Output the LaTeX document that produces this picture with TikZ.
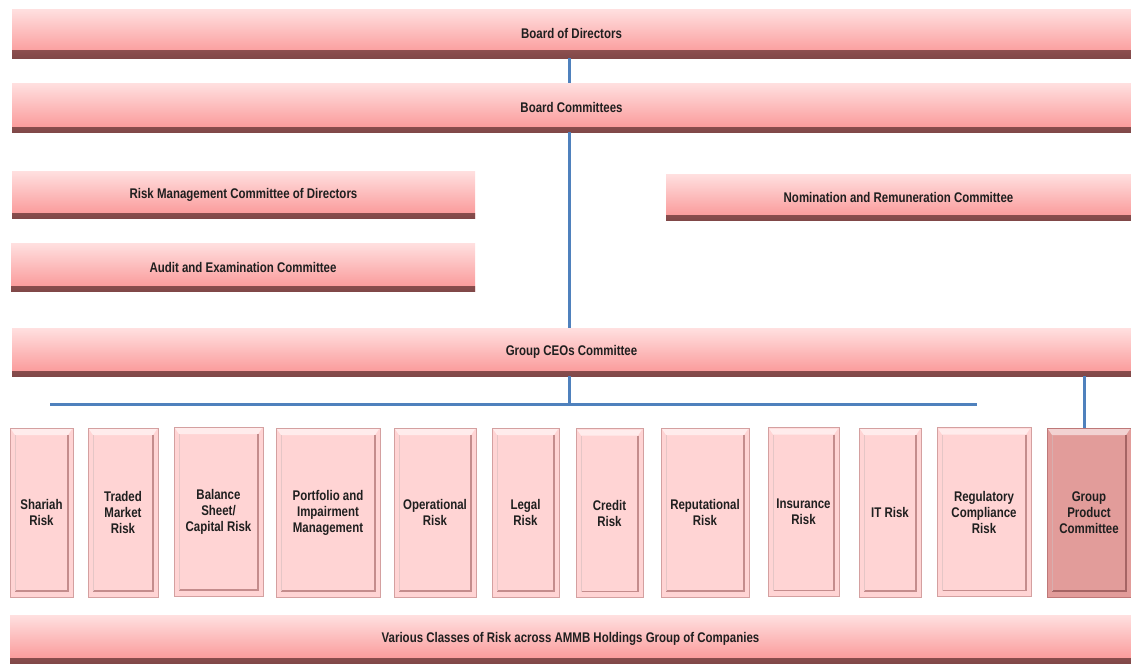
\documentclass[tikz,border=0pt]{standalone}
\usepackage{fontspec}
\newfontfamily\lbl[FakeStretch=0.82]{Liberation Sans}
\definecolor{barTop}{RGB}{255,224,224}
\definecolor{barBot}{RGB}{250,148,148}
\definecolor{barMid}{RGB}{205,112,112}
\definecolor{barEdge}{RGB}{128,72,72}
\definecolor{tileIn}{RGB}{255,212,212}
\definecolor{tileRim}{RGB}{212,160,160}
\definecolor{tileDark}{RGB}{196,140,140}
\definecolor{gpIn}{RGB}{226,156,154}
\definecolor{gpRim}{RGB}{190,120,120}
\definecolor{gpDark}{RGB}{165,100,100}
\definecolor{link}{RGB}{79,129,189}
\tikzset{
  lbltext/.style={font=\lbl\bfseries\fontsize{14}{16}\selectfont, text=black!88},
  bar/.style={lbltext, minimum height=#1, inner sep=0pt, top color=barTop, bottom color=barBot,
    path picture={\shade[top color=barMid, bottom color=barEdge] (path picture bounding box.south west) rectangle ([yshift=5pt]path picture bounding box.south east);}},
  bar/.default=48pt,
  bevel/.style n args={3}{lbltext, minimum height=169pt, inner sep=0pt, align=center, fill=#1, draw=#2, line width=0.8pt,
    path picture={
      \fill[white!55!#1] ([xshift=1pt,yshift=-1pt]path picture bounding box.north west) -- ([xshift=-1pt,yshift=-1pt]path picture bounding box.north east) -- ([xshift=-5pt,yshift=-7pt]path picture bounding box.north east) -- ([xshift=5pt,yshift=-7pt]path picture bounding box.north west) -- cycle;
      \draw[#3, line width=1.3pt] ([xshift=-5pt,yshift=-7pt]path picture bounding box.north east) -- ([xshift=-5pt,yshift=6pt]path picture bounding box.south east) -- ([xshift=5pt,yshift=6pt]path picture bounding box.south west);
      \draw[#2!60!white, line width=0.8pt] ([xshift=5pt,yshift=6pt]path picture bounding box.south west) -- ([xshift=5pt,yshift=-7pt]path picture bounding box.north west);}},
  tilebox/.style={bevel={tileIn}{tileRim}{tileDark}},
  gpbox/.style={bevel={gpIn}{gpRim}{gpDark}},
  linkline/.style={draw=link, line width=3pt}
}
\begin{document}
\begin{tikzpicture}[x=1pt,y=-1pt]
\useasboundingbox (0,0) rectangle (1131,667);
% horizontal bars
\node[bar=49pt, minimum width=1119pt, path picture={\shade[top color=barMid, bottom color=barEdge] (path picture bounding box.south west) rectangle ([yshift=8pt]path picture bounding box.south east);}] (bod) at (571.5,33.5) {Board of Directors};
\node[bar=49pt, minimum width=1119pt] (bc) at (571.5,107.5) {Board Committees};
\node[bar=47pt, minimum width=463pt] (rmc) at (243.5,194.5) {Risk Management Committee of Directors};
\node[bar=48pt, minimum width=464pt] (aec) at (243,267) {Audit and Examination Committee};
\node[bar=46pt, minimum width=465pt] (nrc) at (898.5,197) {Nomination and Remuneration Committee};
\node[bar=48pt, minimum width=1119pt] (ceo) at (571.5,352) {Group CEOs Committee};
\node[bar=48pt, minimum width=1121pt] (var) at (570.5,639) {Various Classes of Risk across AMMB Holdings Group of Companies};
% tiles
\node[tilebox, minimum width=63pt] (t1) at (41.5,512.5) {Shariah\\Risk};
\node[tilebox, minimum width=70pt] (t2) at (123,512.5) {Traded\\Market\\Risk};
\node[tilebox, minimum width=89pt] (t3) at (218.5,511.5) {Balance\\Sheet/\\Capital Risk};
\node[tilebox, minimum width=104pt] (t4) at (328,512.5) {Portfolio and\\Impairment\\Management};
\node[tilebox, minimum width=82pt] (t5) at (435,512.5) {Operational\\Risk};
\node[tilebox, minimum width=67pt] (t6) at (525.5,512.5) {Legal\\Risk};
\node[tilebox, minimum width=67pt] (t7) at (609.5,513) {Credit\\Risk};
\node[tilebox, minimum width=88pt] (t8) at (705,512.5) {Reputational\\Risk};
\node[tilebox, minimum width=71pt] (t9) at (803.5,512) {Insurance\\Risk};
\node[tilebox, minimum width=62pt] (t10) at (890,512.5) {IT Risk};
\node[tilebox, minimum width=94pt] (t11) at (984,512) {Regulatory\\Compliance\\Risk};
\node[gpbox, minimum width=84pt] (gpc) at (1089,512.5) {Group\\Product\\Committee};
% connectors
\coordinate (spine) at (569,0);
\coordinate (hub) at (569,404);
\coordinate (hl) at (50,404);
\coordinate (hr) at (977,404);
\coordinate (gpx) at (1084,0);
\draw[linkline] (bod.south -| spine) -- (bc.north -| spine);
\draw[linkline] (bc.south -| spine) -- (ceo.north -| spine);
\draw[linkline] (ceo.south -| spine) -- (hub);
\draw[linkline] (hl) -- (hr);
\draw[linkline] (ceo.south -| gpx) -- (gpc.north -| gpx);
\end{tikzpicture}
\end{document}
